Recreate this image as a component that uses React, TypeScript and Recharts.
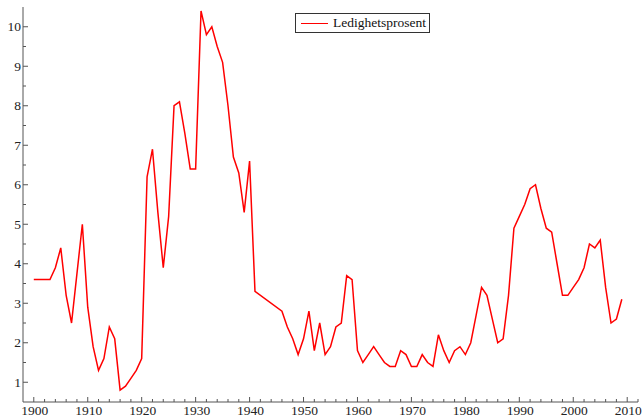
import { Legend, Line, LineChart, XAxis, YAxis } from "recharts";

const years = [
  1900, 1901, 1902, 1903, 1904, 1905, 1906, 1907, 1908, 1909,
  1910, 1911, 1912, 1913, 1914, 1915, 1916, 1917, 1918, 1919,
  1920, 1921, 1922, 1923, 1924, 1925, 1926, 1927, 1928, 1929,
  1930, 1931, 1932, 1933, 1934, 1935, 1936, 1937, 1938, 1939,
  1940, 1941, 1946, 1947, 1948, 1949,
  1950, 1951, 1952, 1953, 1954, 1955, 1956, 1957, 1958, 1959,
  1960, 1961, 1962, 1963, 1964, 1965, 1966, 1967, 1968, 1969,
  1970, 1971, 1972, 1973, 1974, 1975, 1976, 1977, 1978, 1979,
  1980, 1981, 1982, 1983, 1984, 1985, 1986, 1987, 1988, 1989,
  1990, 1991, 1992, 1993, 1994, 1995, 1996, 1997, 1998, 1999,
  2000, 2001, 2002, 2003, 2004, 2005, 2006, 2007, 2008, 2009,
];

const ledighet = [
  3.6, 3.6, 3.6, 3.6, 3.9, 4.4, 3.2, 2.5, 3.75, 5.0,
  2.9, 1.9, 1.3, 1.6, 2.4, 2.1, 0.8, 0.9, 1.1, 1.3,
  1.6, 6.2, 6.9, 5.3, 3.9, 5.2, 8.0, 8.1, 7.3, 6.4,
  6.4, 10.4, 9.8, 10.0, 9.5, 9.1, 8.0, 6.7, 6.3, 5.3,
  6.6, 3.3, 2.8, 2.4, 2.1, 1.7,
  2.1, 2.8, 1.8, 2.5, 1.7, 1.9, 2.4, 2.5, 3.7, 3.6,
  1.8, 1.5, 1.7, 1.9, 1.7, 1.5, 1.4, 1.4, 1.8, 1.7,
  1.4, 1.4, 1.7, 1.5, 1.4, 2.2, 1.8, 1.5, 1.8, 1.9,
  1.7, 2.0, 2.7, 3.4, 3.2, 2.6, 2.0, 2.1, 3.2, 4.9,
  5.2, 5.5, 5.9, 6.0, 5.4, 4.9, 4.8, 4.0, 3.2, 3.2,
  3.4, 3.6, 3.9, 4.5, 4.4, 4.6, 3.4, 2.5, 2.6, 3.1,
];

const xMajor = [1900, 1910, 1920, 1930, 1940, 1950, 1960, 1970, 1980, 1990, 2000, 2010];
const yMajor = [1, 2, 3, 4, 5, 6, 7, 8, 9, 10];

// minor ticks: every 2 years / every 0.5
const xTicks: number[] = [];
for (let yr = 1900; yr <= 2012; yr += 2) xTicks.push(yr);
const yTicks: number[] = [];
for (let v = 1; v <= 10; v += 0.5) yTicks.push(v);

const data = years.map((year, i) => ({ year, value: ledighet[i] }));

const FONT = "Liberation Serif, serif";
const AXIS = "#555";

function XTick(props: any) {
  const { x, y, payload } = props;
  const major = xMajor.includes(payload.value);
  return (
    <g>
      <line x1={x} x2={x} y1={y} y2={y - (major ? 5 : 3)} stroke={AXIS} />
      {major && (
        <text x={x + 1} y={y + 13} textAnchor="middle" fontFamily={FONT} fontSize={13.5} fill="#222">
          {payload.value}
        </text>
      )}
    </g>
  );
}

function YTick(props: any) {
  const { x, y, payload } = props;
  const major = yMajor.includes(payload.value);
  return (
    <g>
      <line x1={x} x2={x + (major ? 5 : 3)} y1={y} y2={y} stroke={AXIS} />
      {major && (
        <text x={x - 2} y={y} dy="0.35em" textAnchor="end" fontFamily={FONT} fontSize={13.5} fill="#222">
          {payload.value}
        </text>
      )}
    </g>
  );
}

function LegendBox() {
  return (
    <div
      style={{
        border: "1px solid #333",
        background: "#fff",
        display: "flex",
        alignItems: "center",
        padding: "0 3px 0 5px",
        height: 20,
        fontFamily: FONT,
        fontSize: 13.5,
        color: "#111",
        boxSizing: "border-box",
        whiteSpace: "nowrap",
      }}
    >
      <span style={{ display: "inline-block", width: 27, height: 0, borderTop: "1.5px solid #ff0000", marginRight: 5 }} />
      <span>Ledighetsprosent</span>
    </div>
  );
}

export default function App() {
  return (
    <div style={{ position: "absolute", left: 0, top: 0, background: "#fff" }}>
      <LineChart width={643} height={417} data={data} margin={{ top: 7, right: 5, bottom: 0, left: 0 }}>
        <XAxis
          dataKey="year"
          type="number"
          domain={[1898, 2012]}
          ticks={xTicks}
          interval={0}
          tick={<XTick />}
          tickLine={false}
          tickSize={0}
          tickMargin={0}
          height={15}
          stroke={AXIS}
          allowDataOverflow
        />
        <YAxis
          type="number"
          domain={[0.5, 10.5]}
          ticks={yTicks}
          interval={0}
          tick={<YTick />}
          tickLine={false}
          tickSize={0}
          tickMargin={0}
          width={23}
          stroke={AXIS}
          allowDataOverflow
        />
        <Legend
          layout="horizontal"
          verticalAlign="middle"
          align="center"
          content={<LegendBox />}
          wrapperStyle={{ position: "absolute", left: 295, top: 13, width: "auto", height: "auto" }}
        />
        <Line
          type="linear"
          dataKey="value"
          name="Ledighetsprosent"
          stroke="#ff0000"
          strokeWidth={1.5}
          dot={false}
          isAnimationActive={false}
        />
      </LineChart>
    </div>
  );
}
